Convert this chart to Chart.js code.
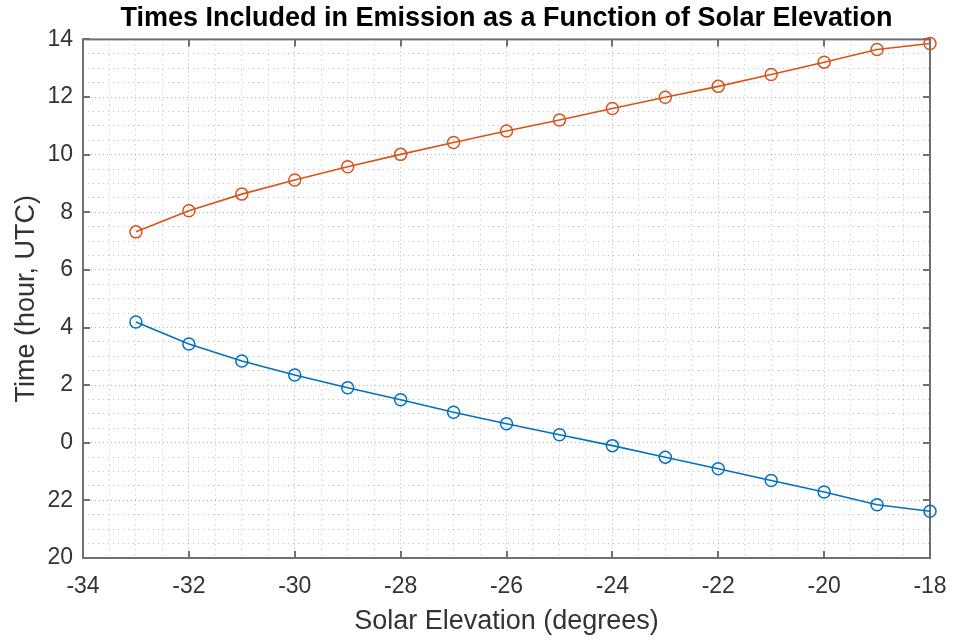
<!DOCTYPE html>
<html>
<head>
<meta charset="utf-8">
<title>Times Included in Emission</title>
<script src="https://cdn.jsdelivr.net/npm/chart.js@4.4.1/dist/chart.umd.min.js"></script>
<style>
  html, body { margin: 0; padding: 0; background: #fff; }
  #wrap { width: 954px; height: 640px; position: relative; }
</style>
</head>
<body>
<div id="wrap"><canvas id="chart"></canvas></div>
<script>
// solar elevation (degrees) of each sample
const elevations = [-33, -32, -31, -30, -29, -28, -27, -26, -25, -24, -23, -22, -21, -20, -19, -18];

// hours UTC; negative values are the previous evening (-2 => 22:00)
const startHours = [4.19, 3.43, 2.84, 2.35, 1.91, 1.49, 1.06, 0.66, 0.28, -0.10, -0.50, -0.90, -1.31, -1.71, -2.15, -2.38];
const endHours = [7.32, 8.05, 8.63, 9.12, 9.58, 10.01, 10.42, 10.82, 11.20, 11.60, 11.99, 12.37, 12.78, 13.21, 13.65, 13.86];

const xTicks = [-34, -32, -30, -28, -26, -24, -22, -20, -18];
const yTicks = [-4, -2, 0, 2, 4, 6, 8, 10, 12, 14];

const FONT = "'Liberation Sans', Arial, Helvetica, sans-serif";
const frameColor = '#6f6f6f';
const textColor = '#333333';

const isMajor = (v, list) => list.includes(v);

// box around the plot with inward tick marks
const axesBox = {
    id: 'axesBox',
    beforeDatasetsDraw(chart) {
        const { ctx, chartArea: a, scales: { x, y } } = chart;
        const len = 7;
        ctx.save();
        ctx.strokeStyle = frameColor;
        ctx.lineWidth = 2;
        ctx.strokeRect(a.left, a.top, a.right - a.left, a.bottom - a.top);
        ctx.beginPath();
        xTicks.forEach(v => {
            const px = Math.round(x.getPixelForValue(v));
            ctx.moveTo(px, a.bottom); ctx.lineTo(px, a.bottom - len);
            ctx.moveTo(px, a.top); ctx.lineTo(px, a.top + len);
        });
        yTicks.forEach(v => {
            const py = Math.round(y.getPixelForValue(v));
            ctx.moveTo(a.left, py); ctx.lineTo(a.left + len, py);
            ctx.moveTo(a.right, py); ctx.lineTo(a.right - len, py);
        });
        ctx.stroke();
        ctx.restore();
    }
};

function series(values, color) {
    return {
        data: elevations.map((e, i) => ({ x: e, y: values[i] })),
        borderColor: color,
        borderWidth: 1.6,
        pointStyle: 'circle',
        pointRadius: 6,
        pointBorderWidth: 1.5,
        pointBorderColor: color,
        pointBackgroundColor: 'rgba(0,0,0,0)',
        tension: 0,
        clip: false
    };
}

// dotted grid every half unit
const gridColor = list => ctx => isMajor(ctx.tick.value, list) ? 'rgba(0,0,0,0.3)' : 'rgba(0,0,0,0.26)';
const gridDash = list => ctx => isMajor(ctx.tick.value, list) ? [1, 3] : [1, 4];

new Chart(document.getElementById('chart'), {
    type: 'line',
    data: {
        datasets: [
            series(startHours, '#0072BD'),
            series(endHours, '#D95319')
        ]
    },
    options: {
        responsive: true,
        maintainAspectRatio: false,
        animation: false,
        layout: { padding: { left: 0, right: 24, top: 0, bottom: 0 } },
        plugins: {
            legend: { display: false },
            tooltip: { enabled: false },
            title: {
                display: true,
                fullSize: false,
                text: 'Times Included in Emission as a Function of Solar Elevation',
                color: '#000',
                font: { family: FONT, size: 27, weight: 'bold' },
                padding: { top: 2, bottom: 5 }
            }
        },
        scales: {
            x: {
                type: 'linear',
                min: -34,
                max: -18,
                afterFit: s => { s.height = 82; s.paddingLeft = 0; s.paddingRight = 0; },
                border: { display: false, dash: gridDash(xTicks) },
                grid: { color: gridColor(xTicks), lineWidth: 1, drawTicks: false },
                ticks: {
                    stepSize: 0.5,
                    maxTicksLimit: 100,
                    autoSkip: false,
                    maxRotation: 0,
                    padding: 15,
                    color: textColor,
                    font: { family: FONT, size: 23 },
                    callback: v => isMajor(v, xTicks) ? String(v) : ''
                },
                title: {
                    display: true,
                    text: 'Solar Elevation (degrees)',
                    color: textColor,
                    font: { family: FONT, size: 27 },
                    padding: { top: 0, bottom: 2 }
                }
            },
            y: {
                type: 'linear',
                min: -4,
                max: 14,
                afterFit: s => { s.width = 83; },
                border: { display: false, dash: gridDash(yTicks) },
                grid: { color: gridColor(yTicks), lineWidth: 1, drawTicks: false },
                ticks: {
                    stepSize: 0.5,
                    maxTicksLimit: 100,
                    autoSkip: false,
                    padding: 10,
                    color: textColor,
                    font: { family: FONT, size: 23 },
                    // wrap the hour axis at midnight
                    callback: v => isMajor(v, yTicks) ? String((v + 24) % 24) : ''
                },
                title: {
                    display: true,
                    text: 'Time (hour, UTC)',
                    color: textColor,
                    font: { family: FONT, size: 27 },
                    padding: { top: 10, bottom: 0 }
                }
            }
        }
    },
    plugins: [axesBox]
});
</script>
</body>
</html>
